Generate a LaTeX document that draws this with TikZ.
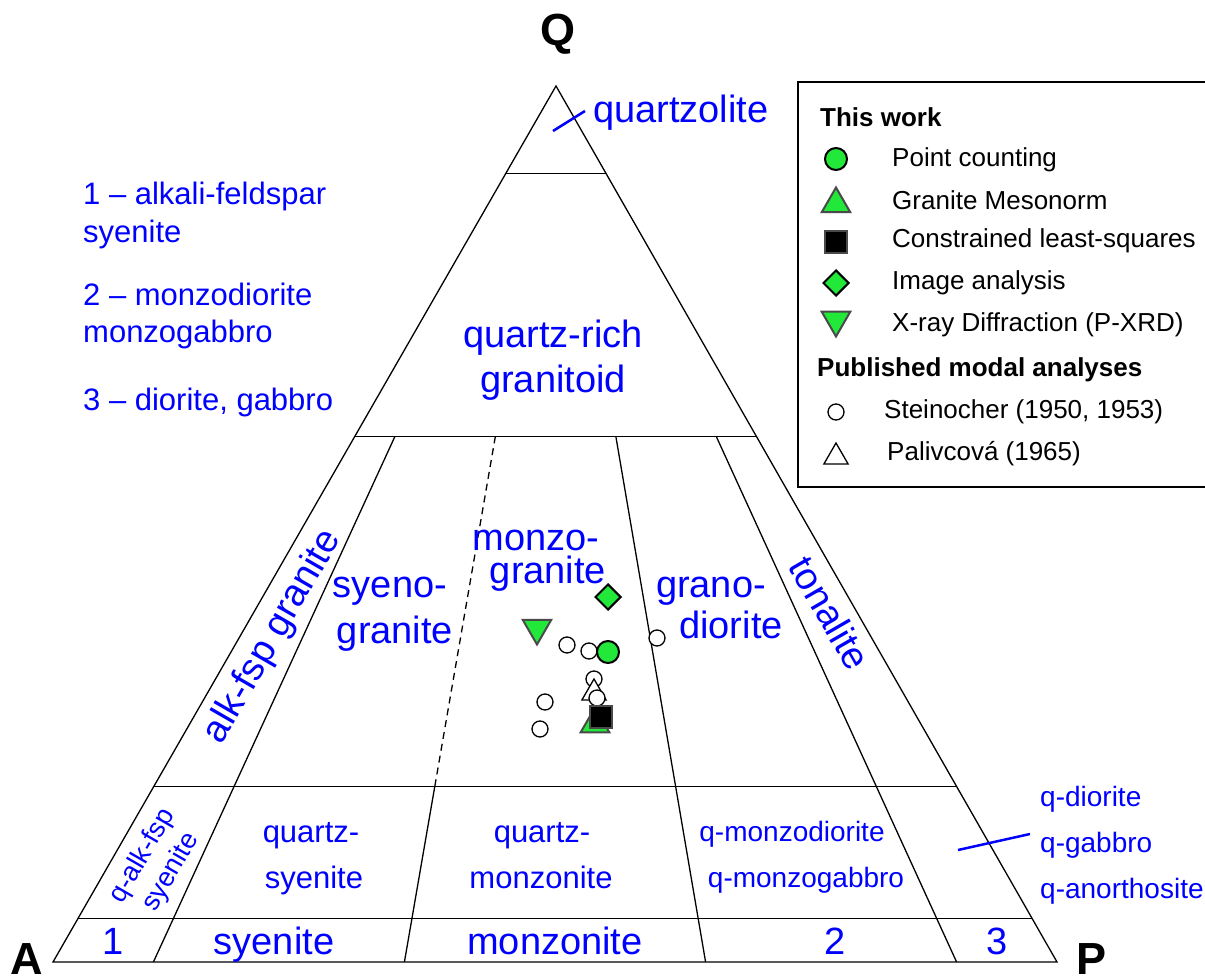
\documentclass[tikz,border=0pt]{standalone}
\usepackage{fontspec}
\setmainfont{Liberation Sans}
\usetikzlibrary{calc,shapes.geometric}
\definecolor{azul}{HTML}{0000FF}
\definecolor{verde}{HTML}{22E83A}
\definecolor{cinza}{HTML}{4A4A4A}

\begin{document}
\begin{tikzpicture}[x=1pt,y=-1pt,
  linha/.style={line width=1.3pt},
  traco/.style={azul,line width=2.5pt},
  campo/.style={text=azul,font=\fontsize{38}{45}\selectfont,align=center,inner sep=0pt},
  campop/.style={text=azul,font=\fontsize{31}{38}\selectfont,align=left,inner sep=0pt},
  campoq/.style={text=azul,font=\fontsize{28}{34}\selectfont,align=center,inner sep=0pt},
  vertice/.style={font=\fontsize{45}{50}\selectfont\bfseries,inner sep=0pt},
  leg/.style={font=\fontsize{26}{31}\selectfont,inner sep=0pt,anchor=base west},
  legt/.style={leg,font=\fontsize{26}{31}\selectfont\bfseries},
  ptcont/.style={circle,fill=verde,draw=black,line width=2pt,minimum size=22pt,inner sep=0pt},
  mesonorm/.style={regular polygon,regular polygon sides=3,fill=verde,draw=cinza,line width=2pt,minimum size=33pt,inner sep=0pt},
  minquad/.style={rectangle,fill=black,draw=cinza,line width=2.5pt,minimum size=22pt,inner sep=0pt},
  imagem/.style={diamond,aspect=1,fill=verde,draw=black,line width=2pt,minimum size=26pt,inner sep=0pt},
  xrd/.style={mesonorm,shape border rotate=180},
  stein/.style={circle,draw=black,fill=white,line width=1.3pt,minimum size=16pt,inner sep=0pt},
  paliv/.style={regular polygon,regular polygon sides=3,draw=black,fill=white,line width=1.3pt,minimum size=28pt,inner sep=0pt}
]
  \useasboundingbox (0,0) rectangle (1205,976);
  % triangulo QAP
  \coordinate (A) at (53,962);
  \coordinate (P) at (1057,962);
  \coordinate (Q) at (556,86);
  \draw[linha] (A) -- (P) -- (Q) -- cycle;
  \foreach \q in {0.9,0.6,0.2,0.05}
    \draw[linha] ($(A)!\q!(Q)$) -- ($(P)!\q!(Q)$);
  \coordinate (b10) at ($(A)!0.10!(P)$);
  \coordinate (b35) at ($(A)!0.35!(P)$);
  \coordinate (b65) at ($(A)!0.65!(P)$);
  \coordinate (b90) at ($(A)!0.90!(P)$);
  \draw[linha] ($(Q)!0.4!(b10)$) -- (b10);
  \draw[linha,dash pattern=on 7pt off 5pt] ($(Q)!0.4!(b35)$) -- ($(Q)!0.8!(b35)$);
  \draw[linha] ($(Q)!0.8!(b35)$) -- (b35);
  \draw[linha] ($(Q)!0.4!(b65)$) -- (b65);
  \draw[linha] ($(Q)!0.4!(b90)$) -- (b90);

  \node[vertice,anchor=base] (vq) at (558,46) {Q};
  \node[vertice,anchor=base] (va) at (27,974) {A};
  \node[vertice,anchor=base] (vp) at (1091,974) {P};

  % campos
  \coordinate (tq1) at (553,131);
  \coordinate (tq2) at (585,111);
  \draw[traco] (tq1) -- (tq2);
  \node[campo,anchor=base west] (qzl) at (593,123) {quartzolite};
  \node[campo,anchor=base] (qrg) at (553,392) {quartz-rich\\granitoid};
  \node[campo,rotate=60] (afg) at (273,637) {alk-fsp granite};
  \node[campo,anchor=base] (syg1) at (390,597) {syeno-};
  \node[campo,anchor=base] (syg2) at (395,643) {granite};
  \node[campo,anchor=base] (mzg1) at (536,550) {monzo-};
  \node[campo,anchor=base] (mzg2) at (548,583) {granite};
  \node[campo,anchor=base] (grd1) at (711,597) {grano-};
  \node[campo,anchor=base] (grd2) at (731,638) {diorite};
  \node[campo,rotate=-60] (ton) at (830,613) {tonalite};

  \node[campoq,rotate=60,font=\fontsize{27}{33}\selectfont] (qas) at (157,864) {q-alk-fsp\\syenite};
  \node[campop,anchor=base] (qs1) at (311,842) {quartz-};
  \node[campop,anchor=base] (qs2) at (314,888) {syenite};
  \node[campop,anchor=base] (qm1) at (542,842) {quartz-};
  \node[campop,anchor=base] (qm2) at (541,888) {monzonite};
  \node[campoq,anchor=base] (qmd1) at (792,841) {q-monzodiorite};
  \node[campoq,anchor=base] (qmd2) at (806,887) {q-monzogabbro};

  \coordinate (tp1) at (958,850);
  \coordinate (tp2) at (1030,834);
  \draw[traco] (tp1) -- (tp2);
  \node[campoq,anchor=base west] (qdi) at (1040,806) {q-diorite};
  \node[campoq,anchor=base west] (qga) at (1040,852) {q-gabbro};
  \node[campoq,anchor=base west] (qan) at (1040,898) {q-anorthosite};

  \node[campo,anchor=base] (f1) at (113,954) {1};
  \node[campo,anchor=base] (f2) at (274,954) {syenite};
  \node[campo,anchor=base] (f3) at (555,954) {monzonite};
  \node[campo,anchor=base] (f4) at (835,954) {2};
  \node[campo,anchor=base] (f5) at (997,954) {3};

  % lista de numeros
  \node[campop,anchor=base west] (n1) at (83,243) {1 – alkali-feldspar\\syenite};
  \node[campop,anchor=base west] (n2) at (83,343) {2 – monzodiorite\\monzogabbro};
  \node[campop,anchor=base west] (n3) at (83,410) {3 – diorite, gabbro};

  % pontos
  \node[imagem] (d1) at (608,597) {};
  \node[xrd] (x1) at (537,628) {};
  \foreach \px/\py [count=\i] in {567/645,589/651,594/679,545/702,540/729,657/638}
    \node[stein] (s\i) at (\px,\py) {};
  \node[mesonorm] (m1) at (595,724) {};
  \node[paliv] (p1) at (594,693) {};
  \node[stein] (s7) at (597,698) {};
  \node[minquad] (c1) at (601,717) {};
  \node[ptcont] (g1) at (608,652) {};

  % legenda
  \draw[line width=2.5pt] (798,82) rectangle (1225,487);
  \node[legt] (lt1) at (820,127) {This work};
  \node[ptcont] (ls1) at (836,159) {};
  \node[leg] (l1) at (892,167) {Point counting};
  \node[mesonorm] (ls2) at (836,204) {};
  \node[leg] (l2) at (892,210) {Granite Mesonorm};
  \node[minquad] (ls3) at (836,242) {};
  \node[leg] (l3) at (892,248) {Constrained least-squares};
  \node[imagem] (ls4) at (836,283) {};
  \node[leg] (l4) at (892,290) {Image analysis};
  \node[xrd] (ls5) at (836,320) {};
  \node[leg] (l5) at (892,332) {X-ray Diffraction (P-XRD)};
  \node[legt] (lt2) at (817,377) {Published modal analyses};
  \node[stein] (ls6) at (836,412) {};
  \node[leg] (l6) at (884,418) {Steinocher (1950, 1953)};
  \node[paliv] (ls7) at (836,457) {};
  \node[leg] (l7) at (887,460) {Palivcová (1965)};
\end{tikzpicture}
\end{document}
